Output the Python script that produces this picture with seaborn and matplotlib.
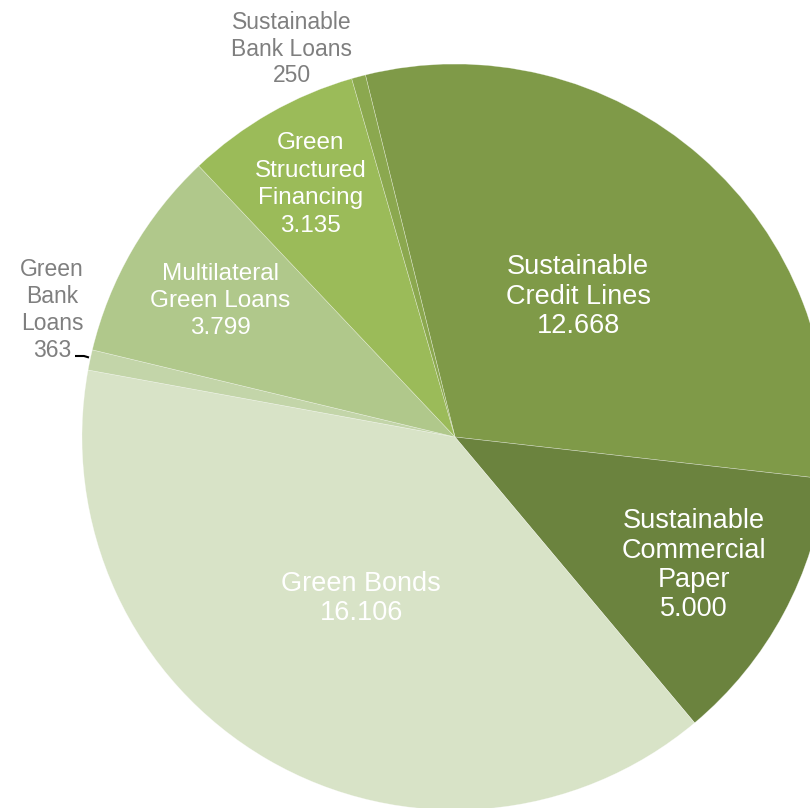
import numpy as np
import matplotlib
matplotlib.use("Agg")
import matplotlib.pyplot as plt
import seaborn as sns

categories = ["Sustainable\nCredit Lines", "Sustainable\nCommercial\nPaper", "Green Bonds",
              "Green\nBank\nLoans", "Multilateral\nGreen Loans", "Green\nStructured\nFinancing",
              "Sustainable\nBank Loans"]
values = [12668, 5000, 16106, 363, 3799, 3135, 250]
value_labels = ["12.668", "5.000", "16.106", "363", "3.799", "3.135", "250"]
colors = ["#7F9A48", "#6B833E", "#D8E3C7", "#C3D5A9", "#B0C88B", "#9BBB59", "#8BA84F"]

sns.set_theme(style="white")
plt.rcParams["font.family"] = ["Liberation Sans", "DejaVu Sans"]

W, H = 810, 808
fig = plt.figure(figsize=(W / 100, H / 100), dpi=100)
ax = fig.add_axes([0, 0, 1, 1])

R = 373.0
cx, cy = 455.0, 437.0
def px(x, y):
    return (x - cx) / R, (cy - y) / R

wedges, _ = ax.pie(values, colors=sns.color_palette(colors), startangle=103.9,
                   counterclock=False, radius=1.0,
                   wedgeprops=dict(edgecolor=(1, 1, 1, 0.45), linewidth=0.4))

ax.set_xlim((0 - cx) / R, (W - cx) / R)
ax.set_ylim((cy - H) / R, cy / R)
ax.set_aspect("equal")
ax.set_axis_off()

# inside labels: radial fraction, font size, line spacing
inside = {0: (0.50, 19.5, 1.17), 1: (0.727, 19.5, 1.17), 2: (0.50, 19.5, 1.17),
          4: (0.727, 17.5, 1.31), 5: (0.78, 17.5, 1.32)}
for i, (rf, fs, ls) in inside.items():
    w = wedges[i]
    mid = np.deg2rad((w.theta1 + w.theta2) / 2)
    ax.text(rf * np.cos(mid), rf * np.sin(mid), f"{categories[i]}\n{value_labels[i]}",
            ha="center", va="center", color="white", fontsize=fs, linespacing=ls)

# outside labels
gx, gy = px(292, 49)
ax.text(gx, gy, f"{categories[6]}\n{value_labels[6]}", ha="center", va="center",
        color="#7F7F7F", fontsize=16.5, linespacing=1.22)
gx, gy = px(52, 310)
ax.text(gx, gy, f"{categories[3]}\n{value_labels[3]}", ha="center", va="center",
        color="#7F7F7F", fontsize=16.5, linespacing=1.22)
lx = [px(75, 356)[0], px(84, 356)[0], px(89, 357.5)[0]]
ly = [px(75, 356)[1], px(84, 356)[1], px(89, 357.5)[1]]
ax.plot(lx, ly, color="black", lw=1.5, solid_capstyle="butt")

fig.savefig("out.png", dpi=100)
